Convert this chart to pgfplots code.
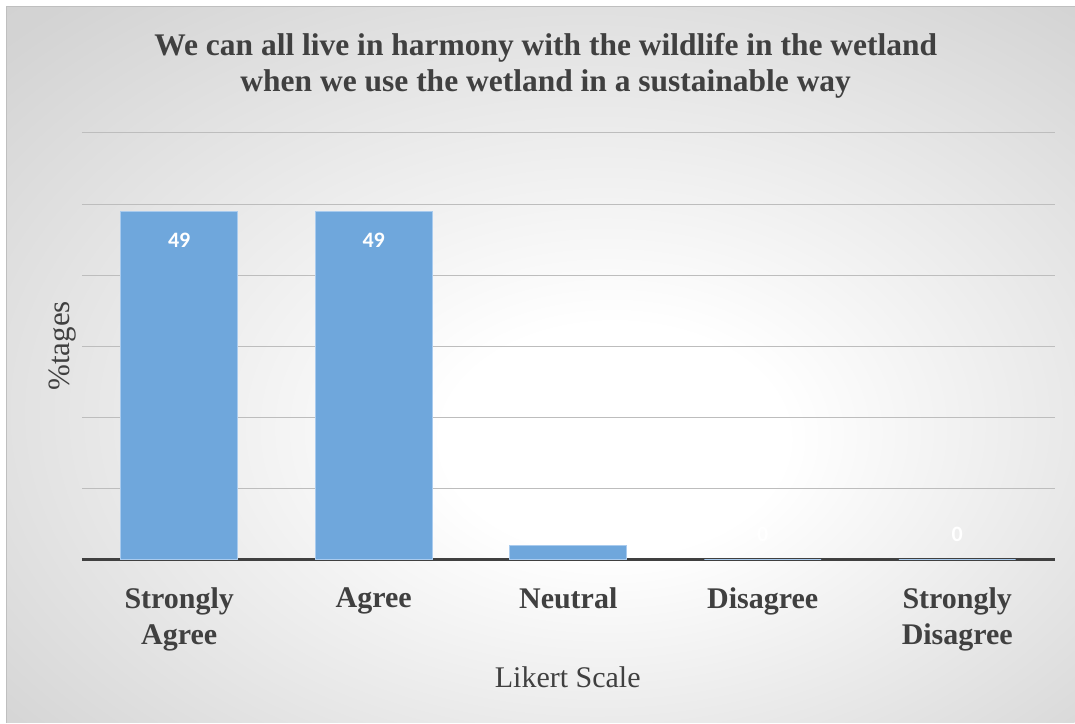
\documentclass[border=0pt]{standalone}
\usepackage{pgfplots}
\pgfplotsset{compat=1.18}
\usepackage{fontspec}
\setmainfont{Liberation Serif}
\newfontfamily\lblfont{Carlito}

\definecolor{barblue}{HTML}{6FA7DC}
\definecolor{baredge}{HTML}{A9CBEE}
\definecolor{txtgray}{HTML}{404040}
\definecolor{gridgray}{HTML}{BDBDBD}

% soft radial panel: white a little right of and below the middle, grey towards the edges
\pgfdeclareradialshading{panel}{\pgfpoint{4bp}{-6bp}}{%
  color(0bp)=(white); color(8bp)=(white); color(36bp)=(black!17); color(60bp)=(black!24)}

\begin{document}
\begin{tikzpicture}[x=1pt,y=1pt]
\fill[white] (0pt,0pt) rectangle (1075pt,723pt);
\shade[shading=panel] (7pt,0pt) rectangle (1075pt,716pt);
\draw[black!25, line width=1pt] (7pt,0pt) -- (7pt,716pt) -- (1075pt,716pt);

\node[font=\fontsize{31.5}{36}\selectfont\bfseries, text=txtgray, anchor=base] at (546pt,667pt)
  {We can all live in harmony with the wildlife in the wetland};
\node[font=\fontsize{31.5}{36}\selectfont\bfseries, text=txtgray, anchor=base] at (546pt,631pt)
  {when we use the wetland in a sustainable way};
\node[font=\fontsize{30}{36}\selectfont, text=txtgray, anchor=base] at (568pt,35pt) {Likert Scale};
\node[font=\fontsize{31}{36}\selectfont, text=txtgray, anchor=base, rotate=90] at (70pt,377pt) {\%tages};

\begin{axis}[
  at={(82pt,163pt)}, anchor=south west,
  scale only axis, width=973pt, height=427pt,
  xmin=-0.5, xmax=4.5, ymin=0, ymax=60,
  axis lines*=left,
  y axis line style={draw=none},
  x axis line style={draw=txtgray, line width=3pt},
  xtick={0,1,2,3,4},
  xticklabels={{Strongly\\Agree},Agree,Neutral,Disagree,{Strongly\\Disagree}},
  xticklabel style={align=center, font=\fontsize{30}{36}\selectfont\bfseries, text=txtgray, yshift=-24pt},
  ytick={10,20,30,40,50,60},
  yticklabels={},
  major tick length=0pt,
  ymajorgrids,
  grid style={draw=gridgray, line width=1.1pt},
  clip=false,
]
\addplot[ybar, bar width=117pt, bar shift=0pt, fill=barblue, draw=baredge, line width=1pt,
  visualization depends on={ifthenelse(y>10,-29,25) \as \lblshift},
  nodes near coords={\lblfont\bfseries\fontsize{22}{22}\selectfont\pgfmathprintnumber[assume math mode=true]{\pgfplotspointmeta}},
  every node near coord/.append style={anchor=center, yshift=\lblshift pt, text=white},
] coordinates {(0,49) (1,49) (2,2) (3,0) (4,0)};
\end{axis}
\end{tikzpicture}
\end{document}
